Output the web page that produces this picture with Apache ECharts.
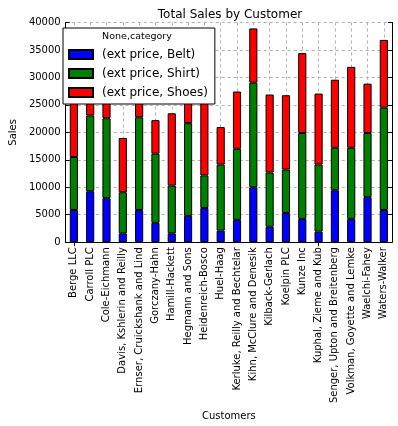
<!DOCTYPE html>
<html>
<head>
<meta charset="utf-8">
<script src="https://cdn.jsdelivr.net/npm/echarts@6/dist/echarts.min.js"></script>
<style>
html,body{margin:0;padding:0;background:#fff;}
#c{width:398px;height:426px;}
</style>
</head>
<body>
<div id="c"></div>
<script>
const customers = ["Berge LLC","Carroll PLC","Cole-Eichmann","Davis, Kshlerin and Reilly","Ernser, Cruickshank and Lind","Gorczany-Hahn","Hamill-Hackett","Hegmann and Sons","Heidenreich-Bosco","Huel-Haag","Kerluke, Reilly and Bechtelar","Kihn, McClure and Denesik","Kilback-Gerlach","Koelpin PLC","Kunze Inc","Kuphal, Zieme and Kub","Senger, Upton and Breitenberg","Volkman, Goyette and Lemke","Waelchi-Fahey","Waters-Walker"];
const belt  = [5870, 9280, 8020, 1620, 5870, 3530, 1620, 4790, 6230, 2100, 4070, 10000, 2810, 5330, 4250, 1920, 9460, 4250, 8200, 5870];
const shirt = [9640, 13770, 14550, 7480, 16880, 12580, 8680, 16890, 5930, 12030, 12940, 19040, 9880, 7900, 15630, 12210, 7730, 12940, 11680, 18620];
const shoes = [14610, 5000, 5200, 9880, 4200, 6110, 13170, 7700, 15400, 6830, 10420, 9880, 14190, 13530, 14550, 12930, 12390, 14730, 8980, 12340];
const yTicks = [0,5000,10000,15000,20000,25000,30000,35000,40000];

const FONT = 'DejaVu Sans';
const chart = echarts.init(document.getElementById('c'), null, {renderer:'canvas'});
const grid = {left:57.5, right:6, top:22.5, bottom:181};
const gridLine = {show:true, lineStyle:{color:'#b0b0b0', type:[3,3], width:1}};
function bar(name, data, color){
  return {name:name, type:'bar', stack:'total', data:data, barWidth:'50%',
    itemStyle:{color:color, borderColor:'#000', borderWidth:1}, emphasis:{disabled:true}};
}
chart.setOption({
  animation:false,
  textStyle:{fontFamily:FONT},
  title:[{text:'Total Sales by Customer', left:225, top:4, textAlign:'center',
    textStyle:{fontSize:12, fontWeight:'normal', color:'#000', fontFamily:FONT}}],
  grid:grid,
  legend:{
    left:63, top:28, orient:'vertical',
    padding:[19,7,4,5], itemGap:4,
    itemWidth:24, itemHeight:9, icon:'rect',
    backgroundColor:'#fff', borderColor:'#000', borderWidth:1, borderRadius:0,
    textStyle:{fontSize:12, color:'#000', fontFamily:FONT, lineHeight:15, padding:[0,0,0,4]},
    data:['(ext price, Belt)','(ext price, Shirt)','(ext price, Shoes)'],
    z:10
  },
  graphic:[{type:'text', x:137, y:32, z:100,
    style:{text:'None,category', fill:'#000', font:'9.5px "DejaVu Sans"', textAlign:'center', textVerticalAlign:'top'}}],
  xAxis:[{
    type:'category', data:customers, boundaryGap:true,
    name:'Customers', nameLocation:'middle', nameGap:163,
    nameTextStyle:{fontSize:10, color:'#000', fontFamily:FONT},
    axisLine:{show:true, lineStyle:{color:'#000', width:1}},
    axisTick:{show:true, inside:true, alignWithLabel:true, length:4, lineStyle:{color:'#000'}},
    axisLabel:{rotate:90, interval:0, fontSize:10, color:'#000', fontFamily:FONT, margin:5},
    splitLine:Object.assign({alignWithLabel:true}, gridLine)
  },{
    type:'category', data:customers, position:'top', boundaryGap:true,
    axisLine:{show:true, lineStyle:{color:'#000', width:1}},
    axisTick:{show:true, inside:true, alignWithLabel:true, length:4, lineStyle:{color:'#000'}},
    axisLabel:{show:false}, splitLine:{show:false}
  }],
  yAxis:[{
    type:'value', min:0, max:40000, interval:5000,
    name:'Sales', nameLocation:'middle', nameGap:42,
    nameTextStyle:{fontSize:10, color:'#000', fontFamily:FONT},
    axisLine:{show:true, lineStyle:{color:'#000', width:1}},
    axisTick:{show:true, inside:true, length:4, lineStyle:{color:'#000'}},
    axisLabel:{fontSize:10, color:'#000', fontFamily:FONT, margin:5,
      customValues:yTicks, formatter:v=>String(v)},
    splitLine:gridLine
  },{
    type:'value', min:0, max:40000, interval:5000, position:'right',
    axisLine:{show:true, lineStyle:{color:'#000', width:1}},
    axisTick:{show:true, inside:true, length:4, lineStyle:{color:'#000'}},
    axisLabel:{show:false}, splitLine:{show:false}
  }],
  series:[bar('(ext price, Belt)', belt, '#0000ff'), bar('(ext price, Shirt)', shirt, '#008000'), bar('(ext price, Shoes)', shoes, '#ff0000')]
});
</script>
</body>
</html>
